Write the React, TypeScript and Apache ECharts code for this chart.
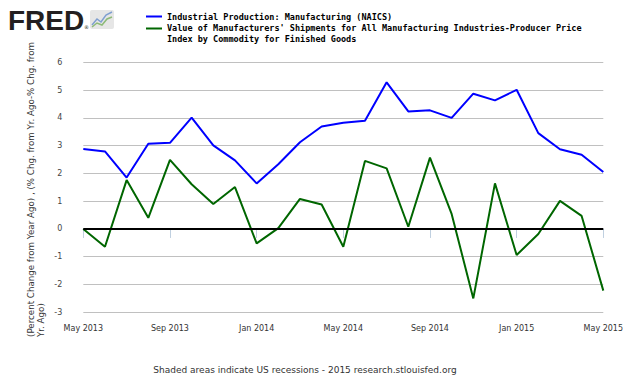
import React, { useEffect, useRef } from "react";
import * as echarts from "echarts";

const months = [
  "May 2013", "Jun 2013", "Jul 2013", "Aug 2013", "Sep 2013", "Oct 2013", "Nov 2013", "Dec 2013",
  "Jan 2014", "Feb 2014", "Mar 2014", "Apr 2014", "May 2014", "Jun 2014", "Jul 2014", "Aug 2014",
  "Sep 2014", "Oct 2014", "Nov 2014", "Dec 2014", "Jan 2015", "Feb 2015", "Mar 2015", "Apr 2015", "May 2015",
];
const industrialProduction = [
  2.88, 2.79, 1.85, 3.07, 3.1, 4.01, 3.01, 2.47, 1.64, 2.33, 3.12, 3.69, 3.82,
  3.9, 5.28, 4.23, 4.27, 4.0, 4.87, 4.63, 5.01, 3.45, 2.87, 2.67, 2.05,
];
const shipmentsValue = [
  0.0, -0.64, 1.76, 0.4, 2.49, 1.61, 0.9, 1.51, -0.52, 0.03, 1.08, 0.88, -0.64,
  2.45, 2.18, 0.08, 2.57, 0.54, -2.5, 1.64, -0.94, -0.18, 1.01, 0.47, -2.22,
];
const legendLabels = [
  "Industrial Production: Manufacturing (NAICS)",
  "Value of Manufacturers' Shipments for All Manufacturing Industries-Producer Price",
  "Index by Commodity for Finished Goods",
];
const yTitleLine1 = "(Percent Change from Year Ago) , (% Chg. from Yr. Ago-% Chg. from";
const yTitleLine2 = "Yr. Ago)";
const footer = "Shaded areas indicate US recessions - 2015 research.stlouisfed.org";

const FONT = "DejaVu Sans";
const MONO = "DejaVu Sans Mono";

export default function App() {
  const ref = useRef<HTMLDivElement>(null);
  useEffect(() => {
    document.body.style.margin = "0";
    const chart = echarts.init(ref.current!, null, { renderer: "svg" });
    chart.setOption({
      animation: false,
      backgroundColor: "#fff",
      grid: { left: 83.3, right: 26.7, top: 62.3, bottom: 65.7 },
      xAxis: {
        type: "category",
        data: months,
        boundaryGap: false,
        axisLine: { lineStyle: { color: "#C0D0E0", width: 1 } },
        axisTick: { interval: 3, length: 9, lineStyle: { color: "#C0D0E0" } },
        axisLabel: { interval: 3, color: "#333", fontFamily: FONT, fontSize: 8, margin: 12 },
        splitLine: { show: false },
      },
      yAxis: {
        type: "value",
        min: -3,
        max: 6,
        interval: 1,
        axisLine: { show: false },
        axisTick: { show: false },
        axisLabel: { color: "#444", fontFamily: FONT, fontSize: 8, margin: 21 },
        splitLine: { lineStyle: { color: "#C0C0C0", width: 1 } },
      },
      series: [
        {
          name: legendLabels[0],
          type: "line",
          data: industrialProduction,
          symbol: "none",
          lineStyle: { color: "#0000FF", width: 2 },
          z: 3,
        },
        {
          name: legendLabels[1],
          type: "line",
          data: shipmentsValue,
          symbol: "none",
          lineStyle: { color: "#006600", width: 2 },
          z: 2,
          markLine: {
            silent: true,
            symbol: "none",
            label: { show: false },
            lineStyle: { color: "#000", width: 2, type: "solid" },
            data: [{ yAxis: 0 }],
          },
        },
      ],
      graphic: [
        {
          type: "text",
          left: 8,
          top: 6,
          style: { text: "FRED", font: "bold 28px 'Liberation Sans'", fill: "#231F20" },
        },
        {
          type: "text",
          left: 84,
          top: 24,
          style: { text: "®", font: "5px 'DejaVu Sans'", fill: "#231F20" },
        },
        {
          type: "rect",
          shape: { x: 90, y: 10, width: 24, height: 19, r: 2 },
          style: { fill: "#E6E6E6" },
        },
        {
          type: "polyline",
          shape: { points: [[92, 25], [97, 19], [101, 22], [106, 15], [112, 12]] },
          style: { stroke: "#7F9FD0", lineWidth: 1.5, fill: "none" },
        },
        {
          type: "polyline",
          shape: { points: [[92, 27], [97, 23], [102, 25], [107, 19], [112, 17]] },
          style: { stroke: "#8DBA78", lineWidth: 1.5, fill: "none" },
        },
        {
          type: "line",
          shape: { x1: 146, y1: 16.5, x2: 162, y2: 16.5 },
          style: { stroke: "#0000FF", lineWidth: 2 },
        },
        {
          type: "line",
          shape: { x1: 146, y1: 28.5, x2: 162, y2: 28.5 },
          style: { stroke: "#006600", lineWidth: 2 },
        },
        {
          type: "text",
          x: 167,
          y: 16.5,
          style: { text: legendLabels[0], font: `bold 8.5px '${MONO}'`, fill: "#000", textVerticalAlign: "middle" },
        },
        {
          type: "text",
          x: 167,
          y: 27.5,
          style: { text: legendLabels[1], font: `bold 8.5px '${MONO}'`, fill: "#000", textVerticalAlign: "middle" },
        },
        {
          type: "text",
          x: 167,
          y: 38.5,
          style: { text: legendLabels[2], font: `bold 8.5px '${MONO}'`, fill: "#000", textVerticalAlign: "middle" },
        },
        {
          type: "text",
          x: 31,
          y: 337,
          rotation: Math.PI / 2,
          style: { text: yTitleLine1, font: `8.7px '${FONT}'`, fill: "#333", textVerticalAlign: "middle", textAlign: "left" },
        },
        {
          type: "text",
          x: 41,
          y: 337,
          rotation: Math.PI / 2,
          style: { text: yTitleLine2, font: `8.7px '${FONT}'`, fill: "#333", textVerticalAlign: "middle", textAlign: "left" },
        },
        {
          type: "text",
          x: 305,
          y: 370,
          style: { text: footer, font: `9px '${FONT}'`, fill: "#333", textAlign: "center", textVerticalAlign: "middle" },
        },
      ],
    });
    return () => chart.dispose();
  }, []);
  return <div ref={ref} style={{ position: "absolute", left: 0, top: 0, width: 630, height: 378 }} />;
}
